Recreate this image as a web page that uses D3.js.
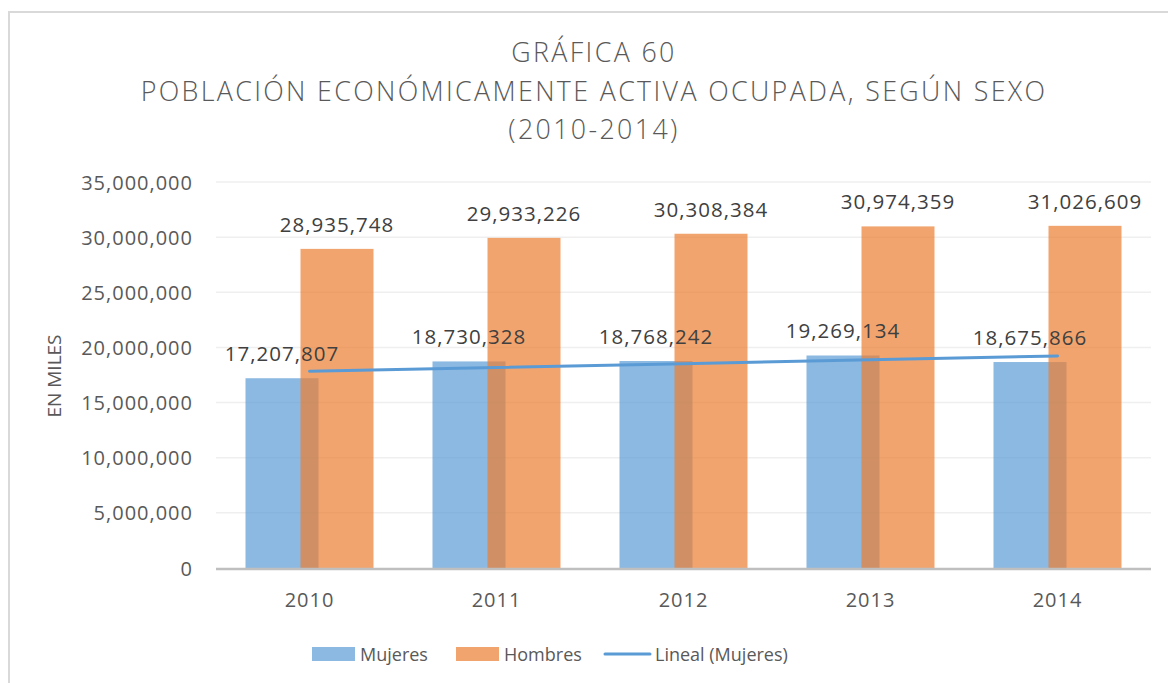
<!DOCTYPE html>
<html>
<head>
<meta charset="utf-8">
<script src="https://cdn.jsdelivr.net/npm/d3@7"></script>
<style>
  html, body { margin: 0; padding: 0; background: #fff; }
  svg { display: block; font-family: "Open Sans", "DejaVu Sans", sans-serif; }
</style>
</head>
<body>
<svg id="chart" width="1168" height="683"></svg>
<script>
// Población económicamente activa ocupada, por sexo
const years = ["2010", "2011", "2012", "2013", "2014"];
const mujeres = [17207807, 18730328, 18768242, 19269134, 18675866];
const hombres = [28935748, 29933226, 30308384, 30974359, 31026609];
const yTicks = [0, 5000000, 10000000, 15000000, 20000000, 25000000, 30000000, 35000000];
const titleLines = ["GRÁFICA 60", "POBLACIÓN ECONÓMICAMENTE ACTIVA OCUPADA, SEGÚN SEXO", "(2010-2014)"];
const legendItems = ["Mujeres", "Hombres", "Lineal (Mujeres)"];

const svg = d3.select("#chart");
const W = 1168, H = 683;
const plot = { left: 216, right: 1151, top: 182, bottom: 568 };

const blue = "#5b9bd5", orange = "#ed7d31";
const textCol = "#595959", labelCol = "#404040";
const fmt = d3.format(",");

// outer chart frame
svg.append("rect")
  .attr("x", 9).attr("y", 12).attr("width", W + 20).attr("height", H + 20)
  .attr("fill", "#fff").attr("stroke", "#d9d9d9").attr("stroke-width", 2);

// title
svg.append("g").selectAll("text").data(titleLines).join("text")
  .attr("x", 594).attr("y", (d, i) => 62 + i * 38.5)
  .attr("text-anchor", "middle")
  .attr("fill", textCol)
  .attr("font-size", 26.8).attr("font-weight", 300)
  .attr("letter-spacing", 2.35)
  .text(d => d);

const x = d3.scaleBand().domain(years).range([plot.left, plot.right]).paddingInner(0).paddingOuter(0);
const y = d3.scaleLinear().domain([0, 35000000]).range([plot.bottom, plot.top]);

const barW = 73, overlap = 18;
const groupW = barW * 2 - overlap;
const xM = d => x(d) + (x.bandwidth() - groupW) / 2;
const xH = d => xM(d) + barW - overlap;

// gridlines
svg.append("g").selectAll("line").data(yTicks.slice(1)).join("line")
  .attr("x1", plot.left).attr("x2", plot.right)
  .attr("y1", d => y(d)).attr("y2", d => y(d))
  .attr("stroke", "#efefef").attr("stroke-width", 1.5);

// y axis tick labels
const yAxis = d3.axisLeft(y).tickValues(yTicks).tickFormat(d => fmt(d)).tickSize(0).tickPadding(0);
const gy = svg.append("g").attr("transform", `translate(193,0)`).call(yAxis);
gy.select(".domain").remove();
gy.selectAll("text")
  .attr("fill", textCol).attr("font-size", 20).attr("font-family", "'Open Sans', sans-serif")
  .attr("letter-spacing", 1).attr("dy", "0.35em");

// y axis title
svg.append("text")
  .attr("transform", "translate(61,376) rotate(-90)")
  .attr("text-anchor", "middle").attr("fill", textCol)
  .attr("font-size", 19).text("EN MILES");

// bars
svg.append("g").selectAll("rect").data(years).join("rect")
  .attr("x", d => xM(d)).attr("width", barW)
  .attr("y", (d, i) => y(mujeres[i])).attr("height", (d, i) => plot.bottom - y(mujeres[i]))
  .attr("fill", blue).attr("fill-opacity", 0.7);
svg.append("g").selectAll("rect").data(years).join("rect")
  .attr("x", d => xH(d)).attr("width", barW)
  .attr("y", (d, i) => y(hombres[i])).attr("height", (d, i) => plot.bottom - y(hombres[i]))
  .attr("fill", orange).attr("fill-opacity", 0.7);

// x axis baseline and labels
svg.append("line")
  .attr("x1", plot.left).attr("x2", plot.right)
  .attr("y1", plot.bottom + 1).attr("y2", plot.bottom + 1)
  .attr("stroke", "#bfbfbf").attr("stroke-width", 2.5);
const xAxis = d3.axisBottom(x).tickSize(0).tickPadding(0);
const gx = svg.append("g").attr("transform", `translate(0,${plot.bottom})`).call(xAxis);
gx.select(".domain").remove();
gx.selectAll("text")
  .attr("fill", textCol).attr("font-size", 20).attr("font-family", "'Open Sans', sans-serif")
  .attr("letter-spacing", 1).attr("y", 39).attr("dy", 0);

// linear trend (least squares) of Mujeres
const n = mujeres.length;
const xs = d3.range(1, n + 1);
const mx = d3.mean(xs), my = d3.mean(mujeres);
const slope = d3.sum(xs, (v, i) => (v - mx) * (mujeres[i] - my)) / d3.sum(xs, v => (v - mx) ** 2);
const icpt = my - slope * mx;
const trend = years.map((yr, i) => ({ yr, v: icpt + slope * xs[i] }));
svg.append("path")
  .datum(trend)
  .attr("d", d3.line().x(d => x(d.yr) + x.bandwidth() / 2).y(d => y(d.v)))
  .attr("fill", "none").attr("stroke", blue).attr("stroke-width", 3).attr("stroke-linecap", "round");

// data labels
const lbl = svg.append("g").attr("fill", labelCol).attr("font-size", 20.5)
  .attr("text-anchor", "middle").attr("letter-spacing", 1);
lbl.selectAll("text.m").data(years).join("text").attr("class", "m")
  .attr("x", d => xM(d) + barW / 2).attr("y", (d, i) => y(mujeres[i]) - 17)
  .text((d, i) => fmt(mujeres[i]));
lbl.selectAll("text.h").data(years).join("text").attr("class", "h")
  .attr("x", d => xH(d) + barW / 2).attr("y", (d, i) => y(hombres[i]) - 17)
  .text((d, i) => fmt(hombres[i]));

// legend
const lg = svg.append("g").attr("font-size", 18).attr("fill", textCol);
const lx = [312, 456, 605];
lg.append("rect").attr("x", lx[0]).attr("y", 647).attr("width", 43).attr("height", 14).attr("fill", blue).attr("fill-opacity", 0.7);
lg.append("rect").attr("x", lx[1]).attr("y", 647).attr("width", 43).attr("height", 14).attr("fill", orange).attr("fill-opacity", 0.7);
lg.append("line").attr("x1", lx[2]).attr("x2", lx[2] + 45).attr("y1", 654).attr("y2", 654)
  .attr("stroke", blue).attr("stroke-width", 3).attr("stroke-linecap", "round");
lg.selectAll("text").data(legendItems).join("text")
  .attr("x", (d, i) => [360, 504, 655][i]).attr("y", 661)
  .text(d => d);
</script>
</body>
</html>
